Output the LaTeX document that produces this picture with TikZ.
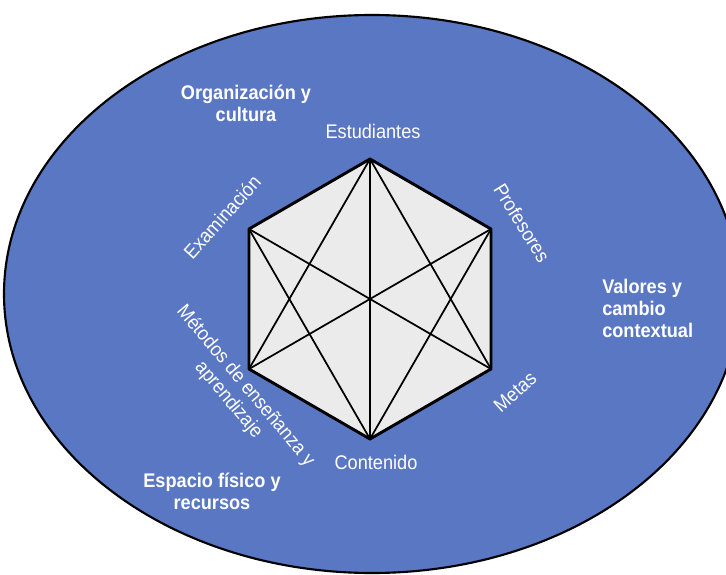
\documentclass[tikz,border=0pt]{standalone}
\usepackage{fontspec}
\setmainfont{Liberation Sans}
\newfontfamily\slimsf[FakeStretch=0.92]{Liberation Sans}
\usetikzlibrary{positioning}
\definecolor{ringblue}{RGB}{89,119,194}
\definecolor{hexgray}{RGB}{235,235,235}
\tikzset{
  facet/.style={text=white,font=\slimsf\fontsize{14.8}{16.5}\selectfont,align=center,inner sep=0pt},
  context/.style={text=white,font=\slimsf\bfseries\fontsize{14.8}{16.5}\selectfont,align=center,inner sep=0pt},
  link/.style={line width=1.3pt},
}

\begin{document}
\begin{tikzpicture}[x=0.75pt,y=-0.75pt]
	\useasboundingbox (0,0) rectangle (726,575);
	\clip (0,0) rectangle (726,575);
	\draw[fill=ringblue,line width=1.6pt] (372,294) ellipse [x radius=276pt,y radius=209.25pt];
	% hexagon corners
	\coordinate (est) at (370,159);
	\coordinate (pro) at (491,229);
	\coordinate (met) at (491,369);
	\coordinate (con) at (370,439);
	\coordinate (mto) at (249,369);
	\coordinate (exa) at (249,229);
	\draw[fill=hexgray,line width=2.2pt,line join=round] (est) -- (pro) -- (met) -- (con) -- (mto) -- (exa) -- cycle;
	\draw[link] (est) -- (con);
	\draw[link] (est) -- (mto);
	\draw[link] (est) -- (met);
	\draw[link] (pro) -- (mto);
	\draw[link] (pro) -- (con);
	\draw[link] (exa) -- (met);
	\draw[link] (exa) -- (con);
	% labels round the hexagon
	\node[facet] (estudiantes) at (373,131) {Estudiantes};
	\node[facet,rotate=-58] (profesores) at (522,223) {Profesores};
	\node[facet,rotate=42] (metas) at (515,392) {Metas};
	\node[facet] (contenido) at (376,462) {Contenido};
	\node[facet,rotate=-50] (metodos) at (237,393) {Métodos de enseñanza y\\aprendizaje};
	\node[facet,rotate=48] (examinacion) at (222,217) {Examinación};
	% context
	\node[context] (organizacion) at (246,103) {Organización y\\cultura};
	\node[context,align=left,anchor=west] (valores) at (602,308) {Valores y\\cambio\\contextual};
	\node[context] (espacio) at (212,491) {Espacio físico y\\recursos};
\end{tikzpicture}
\end{document}
